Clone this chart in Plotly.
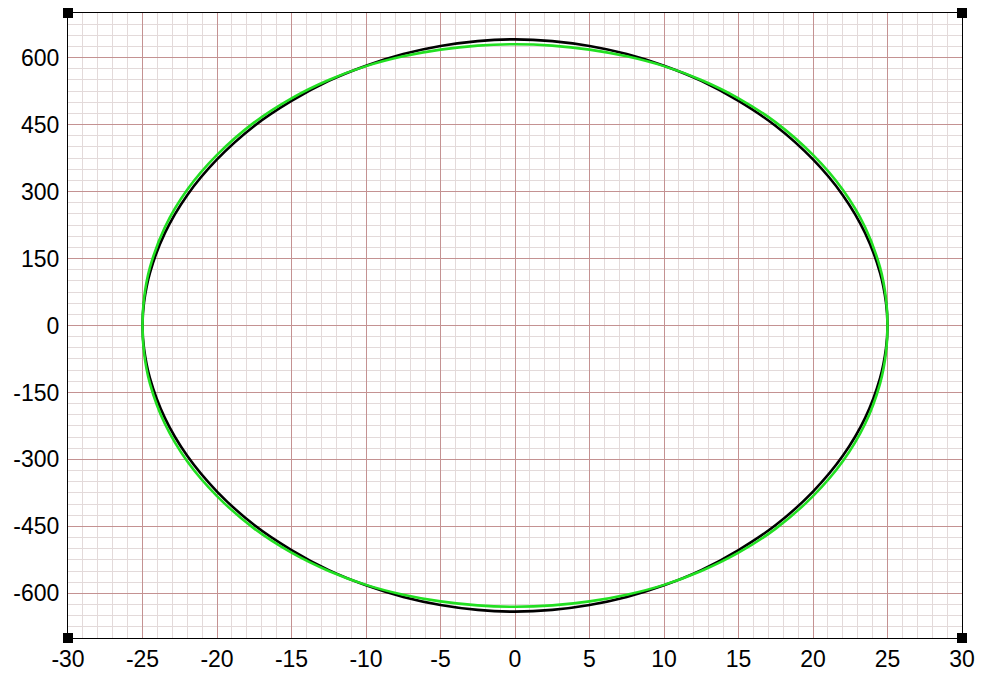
import plotly.graph_objects as go

# Upper half of each closed curve, sampled from left (-25) to right (+25).
x_upper = [-25, -24.9, -24.5, -23.5, -22, -20, -17.5, -15, -12.5, -10, -7.5, -5, -2.5,
           0, 2.5, 5, 7.5, 10, 12.5, 15, 17.5, 20, 22, 23.5, 24.5, 24.9, 25]

black_upper = [0, 51, 118, 207, 292, 372, 447, 503, 548, 582, 608, 626, 637,
               641, 637, 626, 608, 582, 548, 503, 447, 372, 292, 207, 118, 51, 0]

green_upper = [0, 60, 130, 220, 304, 382, 455, 509, 550, 581, 603, 618, 627,
               630, 627, 618, 603, 581, 550, 509, 455, 382, 304, 220, 130, 60, 0]

# Lower half, traced back from right (+25) to left (-25).
x_lower = [25, 24.9, 24.5, 23.5, 22, 20, 17.5, 15, 12.5, 10, 7.5, 5, 2.5,
           0, -2.5, -5, -7.5, -10, -12.5, -15, -17.5, -20, -22, -23.5, -24.5, -24.9, -25]

black_lower = [0, -51, -118, -207, -292, -372, -447, -503, -548, -582, -608, -626, -637,
               -641, -637, -626, -608, -582, -548, -503, -447, -372, -292, -207, -118, -51, 0]

green_lower = [0, -60, -130, -220, -304, -382, -455, -509, -550, -581, -603, -618, -627,
               -630, -627, -618, -603, -581, -550, -509, -455, -382, -304, -220, -130, -60, 0]

x_ticks = [-30, -25, -20, -15, -10, -5, 0, 5, 10, 15, 20, 25, 30]
y_ticks = [-600, -450, -300, -150, 0, 150, 300, 450, 600]
x_range = [-30, 30]
y_range = [-700, 700]

fig = go.Figure()

fig.add_trace(go.Scatter(
    x=x_upper + x_lower[1:], y=black_upper + black_lower[1:],
    mode="lines", line=dict(color="#000000", width=2.6, shape="spline", smoothing=1.0),
    hoverinfo="skip", showlegend=False,
))
fig.add_trace(go.Scatter(
    x=x_upper + x_lower[1:], y=green_upper + green_lower[1:],
    mode="lines", line=dict(color="#22e022", width=2.6, shape="spline", smoothing=1.0),
    hoverinfo="skip", showlegend=False,
))

# Square handles at the four corners of the plotting frame
fig.add_trace(go.Scatter(
    x=[x_range[0], x_range[1], x_range[0], x_range[1]],
    y=[y_range[1], y_range[1], y_range[0], y_range[0]],
    mode="markers", marker=dict(symbol="square", size=10, color="#000000"),
    cliponaxis=False, hoverinfo="skip", showlegend=False,
))

major = "#c49292"
minor = "#e3dada"
tick_font = dict(family="Liberation Sans, Arial, sans-serif", size=23, color="#000000")

fig.update_xaxes(
    range=x_range, tickvals=x_ticks, ticktext=[str(v) for v in x_ticks],
    showgrid=True, gridcolor=major, gridwidth=1,
    minor=dict(dtick=1, tick0=0, showgrid=True, gridcolor=minor, gridwidth=1),
    zeroline=False, showline=True, linecolor="#000000", linewidth=1, mirror=True,
    ticks="", tickfont=tick_font, ticklabelstandoff=0, automargin=False,
)
fig.update_yaxes(
    range=y_range, tickvals=y_ticks, ticktext=[str(v) for v in y_ticks],
    showgrid=True, gridcolor=major, gridwidth=1,
    minor=dict(dtick=25, tick0=0, showgrid=True, gridcolor=minor, gridwidth=1),
    zeroline=False, showline=True, linecolor="#000000", linewidth=1, mirror=True,
    ticks="", tickfont=tick_font, ticklabelstandoff=3, automargin=False,
)

fig.update_layout(
    width=982, height=673,
    margin=dict(l=68, r=20, t=13, b=35),
    paper_bgcolor="#ffffff", plot_bgcolor="#ffffff",
    showlegend=False,
)

fig.write_html("out.html")
